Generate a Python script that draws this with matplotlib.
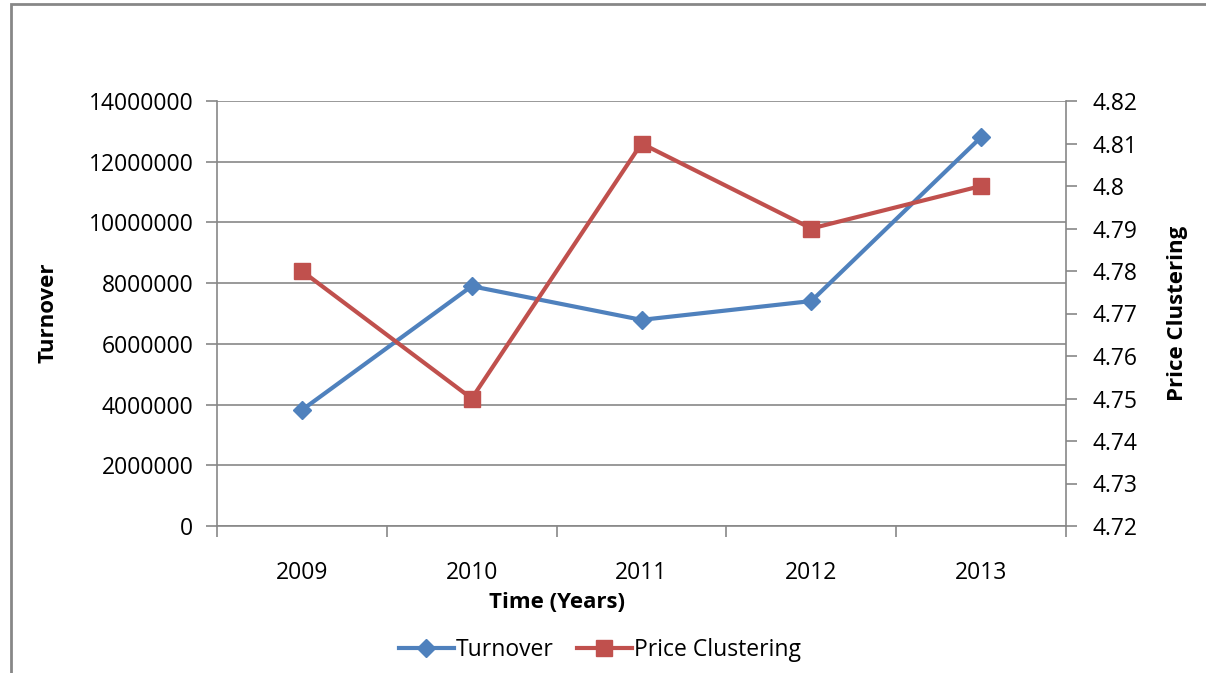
import matplotlib.pyplot as plt
from matplotlib.patches import Rectangle

plt.rcParams['font.family'] = ['Open Sans', 'DejaVu Sans']

years = ['2009', '2010', '2011', '2012', '2013']
turnover = [3820000, 7900000, 6790000, 7410000, 12810000]
price_clustering = [4.78, 4.75, 4.81, 4.79, 4.80]

blue = '#4F81BD'
red = '#C0504D'
grey = '#878787'
fs = 16.5

fig = plt.figure(figsize=(12.06, 6.73), dpi=100)
ax = fig.add_axes([217 / 1206, 1 - 526 / 673, 849 / 1206, 425 / 673])
ax2 = ax.twinx()

x = range(len(years))
l1, = ax.plot(x, turnover, color=blue, linewidth=3, marker='D', markersize=9,
              label='Turnover', zorder=3)
l2, = ax2.plot(x, price_clustering, color=red, linewidth=3, marker='s', markersize=11,
               label='Price Clustering', zorder=3)

ax.set_xlim(-0.5, len(years) - 0.5)
ax.set_ylim(0, 14000000)
ax.set_yticks(range(0, 14000001, 2000000))
ax.set_yticklabels([str(v) for v in range(0, 14000001, 2000000)])
ax2.set_ylim(4.72, 4.82)
ax2.set_yticks([4.72 + 0.01 * i for i in range(11)])
ax2.set_yticklabels(['4.72', '4.73', '4.74', '4.75', '4.76', '4.77', '4.78',
                     '4.79', '4.8', '4.81', '4.82'])

ax.set_xticks(list(x))
ax.set_xticklabels(years)
ax.set_xticks([i - 0.5 for i in range(len(years) + 1)], minor=True)
ax.tick_params(axis='x', which='major', length=0, pad=25, labelsize=fs)
ax.tick_params(axis='x', which='minor', length=8, width=1.2, color=grey, direction='out')
ax.tick_params(axis='y', length=8, width=1.2, color=grey, labelsize=fs, pad=9)
ax2.tick_params(axis='y', length=8, width=1.2, color=grey, labelsize=fs, pad=11)

ax.grid(axis='y', color=grey, linewidth=1.2)
ax.set_axisbelow(True)
for a in (ax, ax2):
    a.spines['top'].set_visible(False)
    for s in ('left', 'right', 'bottom'):
        a.spines[s].set_color(grey)
        a.spines[s].set_linewidth(1.2)
ax.spines['right'].set_visible(False)
ax2.spines['left'].set_visible(False)
ax2.spines['bottom'].set_visible(False)

fig.text(48 / 1206, 1 - 313 / 673, 'Turnover', rotation=90, fontsize=16,
         fontweight='bold', ha='center', va='center')
fig.text(1178 / 1206, 1 - 313 / 673, 'Price Clustering', rotation=90, fontsize=16,
         fontweight='bold', ha='center', va='center')
fig.text(557 / 1206, 1 - 603 / 673, 'Time (Years)', fontsize=16,
         fontweight='bold', ha='center', va='center')

fig.legend([l1, l2], ['Turnover', 'Price Clustering'], loc='center', ncol=2,
           bbox_to_anchor=(600 / 1206, 1 - 650 / 673), frameon=False, fontsize=fs,
           handlelength=2.4, handletextpad=0.1, columnspacing=1.0)

fig.patches.append(Rectangle((11 / 1206, -0.1), 1.2, 1.1 - 4 / 673, transform=fig.transFigure,
                             fill=False, edgecolor=grey, linewidth=2))

fig.savefig('out.png', dpi=100)
